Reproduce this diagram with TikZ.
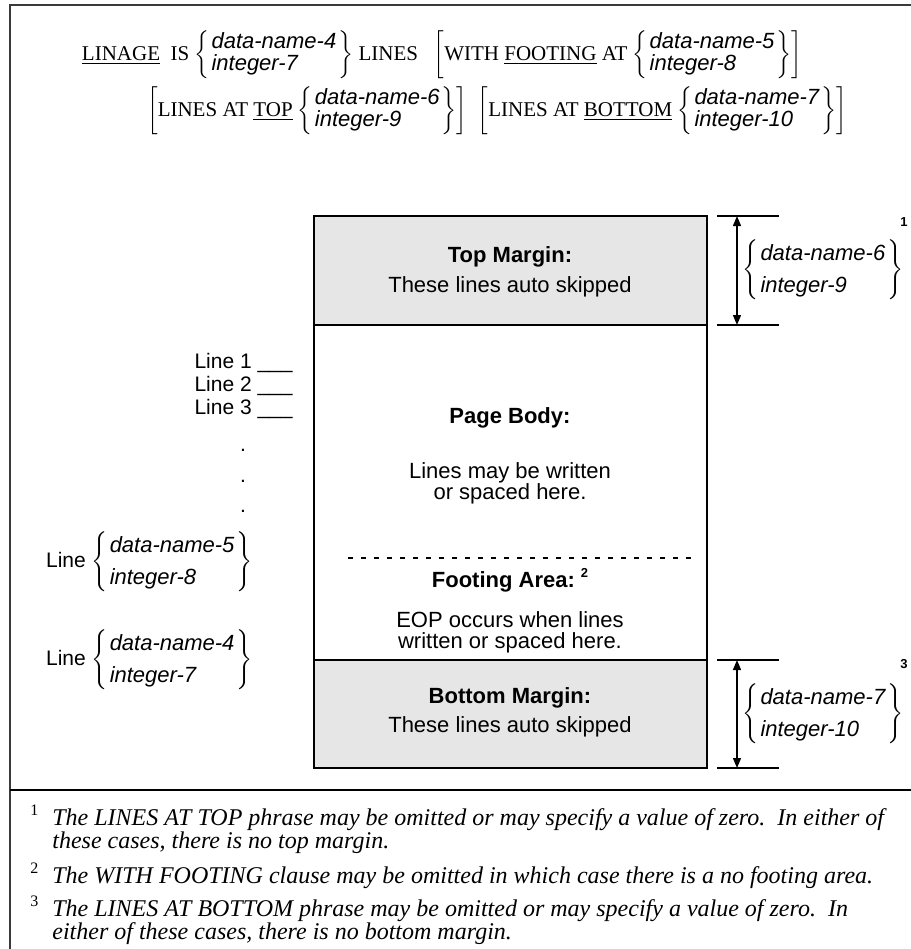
\documentclass[tikz,border=0pt]{standalone}
\usepackage{fontspec}
\setmainfont{Liberation Serif}
\newfontfamily\arial{Liberation Sans}
\usetikzlibrary{arrows.meta}

\definecolor{margingray}{HTML}{E6E6E6}
\definecolor{framegray}{HTML}{3A3A3A}

\newcommand{\dn}[1]{{\arial\itshape\fontsize{11}{11}\selectfont #1}}
\newcommand{\choice}[2]{$\left\{\begin{tabular}{@{\hspace{1pt}}l@{\hspace{1pt}}}\dn{#1}\\\dn{#2}\end{tabular}\right\}$}
\newcommand{\choicewide}[2]{{\renewcommand{\arraystretch}{1.35}\choice{#1}{#2}}}
\newcommand{\fnmark}[1]{\llap{\upshape\fontsize{8}{8}\selectfont\raisebox{5pt}{#1}\hspace{7pt}}}

\tikzset{
  syntax/.style={font=\fontsize{10.5}{11}\selectfont, inner sep=0pt},
  boxhead/.style={font=\arial\bfseries\fontsize{11}{13}\selectfont, inner sep=0pt},
  boxtext/.style={font=\arial\fontsize{11}{10.5}\selectfont, align=center, inner sep=0pt},
  lbl/.style={font=\arial\fontsize{10.5}{12}\selectfont, inner sep=0pt},
  note/.style={font=\itshape\fontsize{12}{11.5}\selectfont, align=left, anchor=north west, inner sep=0pt},
  supnum/.style={font=\arial\bfseries\fontsize{6.5}{7}\selectfont, inner sep=0pt},
  dimline/.style={line width=0.7pt},
  dimarrow/.style={line width=0.7pt, {Triangle[length=5pt,width=4pt]}-{Triangle[length=5pt,width=4pt]}},
}

\begin{document}
\begin{tikzpicture}[x=0.5pt, y=-0.5pt]
\useasboundingbox (0,0) rectangle (911,949);
\draw[framegray, line width=1pt] (911,5) -- (9.5,5) -- (9.5,949);
\draw[line width=1pt] (9.5,790) -- (911,790);

% syntax
\node[syntax] (row1) at (442,55) {\underline{LINAGE}\ \ IS \choice{data-name-4}{integer-7} LINES\enspace\
  $\left[\mbox{WITH \underline{FOOTING} AT \choice{data-name-5}{integer-8}}\right]$};
\node[syntax] (row2) at (497,111) {$\left[\mbox{LINES AT \underline{TOP} \choice{data-name-6}{integer-9}}\right]$\enspace
  $\left[\mbox{LINES AT \underline{BOTTOM} \choice{data-name-7}{integer-10}}\right]$};

% page
\fill[margingray] (314,216) rectangle (707,325);
\fill[margingray] (314,660) rectangle (707,768);
\draw[line width=0.8pt] (314,216) rectangle (707,768);
\draw[line width=0.8pt] (314,325) -- (707,325) (314,660) -- (707,660);
\draw[line width=0.7pt, dash pattern=on 2.5pt off 4pt] (348,558) -- (697,558);

\node[boxhead] (tophead) at (510,257) {Top Margin:};
\node[boxtext] (toptext) at (510,287) {These lines auto skipped};
\node[boxhead] (bodyhead) at (510,418) {Page Body:};
\node[boxtext] (bodytext) at (510,483) {Lines may be written\\or spaced here.};
\node[boxhead] (foothead) at (510,580) {Footing Area:\hspace{3pt}\raisebox{5pt}{\fontsize{6.5}{7}\selectfont 2}};
\node[boxtext] (foottext) at (510,632) {EOP occurs when lines\\written or spaced here.};
\node[boxhead] (bothead) at (510,698) {Bottom Margin:};
\node[boxtext] (bottext) at (510,727) {These lines auto skipped};

% dimensions
\foreach \n/\y in {ta/216,tb/325,ba/660,bb/768}
  \draw[dimline] (717,\y) coordinate (\n) -- (779,\y);
\draw[dimarrow] ([xshift=10pt]ta) -- ([xshift=10pt]tb);
\draw[dimarrow] ([xshift=10pt]ba) -- ([xshift=10pt]bb);
\node[lbl, anchor=west] (topvar) at (742,270) {\choicewide{data-name-6}{integer-9}};
\node[lbl, anchor=west] (botvar) at (742,714) {\choicewide{data-name-7}{integer-10}};
\node[supnum] (sup1) at (904,222) {1};
\node[supnum] (sup3) at (904,664) {3};

% line numbers
\node[lbl, anchor=east] (line1) at (293,363) {Line 1 \_\_\_};
\node[lbl, anchor=east] (line2) at (293,386) {Line 2 \_\_\_};
\node[lbl, anchor=east] (line3) at (293,409) {Line 3 \_\_\_};
\foreach \y in {450,481,511}
  \node[lbl] at (243,\y) {.};
\node[lbl, anchor=east] (linefoot) at (253,562) {Line \choicewide{data-name-5}{integer-8}};
\node[lbl, anchor=east] (linelast) at (253,660) {Line \choicewide{data-name-4}{integer-7}};

% notes
\node[note] (note1) at (52,805) {\fnmark{1}The LINES AT TOP phrase may be omitted or may specify a value of zero.\ \ In either of\\these cases, there is no top margin.};
\node[note] (note2) at (52,862) {\fnmark{2}The WITH FOOTING clause may be omitted in which case there is a no footing area.};
\node[note] (note3) at (52,895) {\fnmark{3}The LINES AT BOTTOM phrase may be omitted or may specify a value of zero.\ \ In\\either of these cases, there is no bottom margin.};
\end{tikzpicture}
\end{document}
